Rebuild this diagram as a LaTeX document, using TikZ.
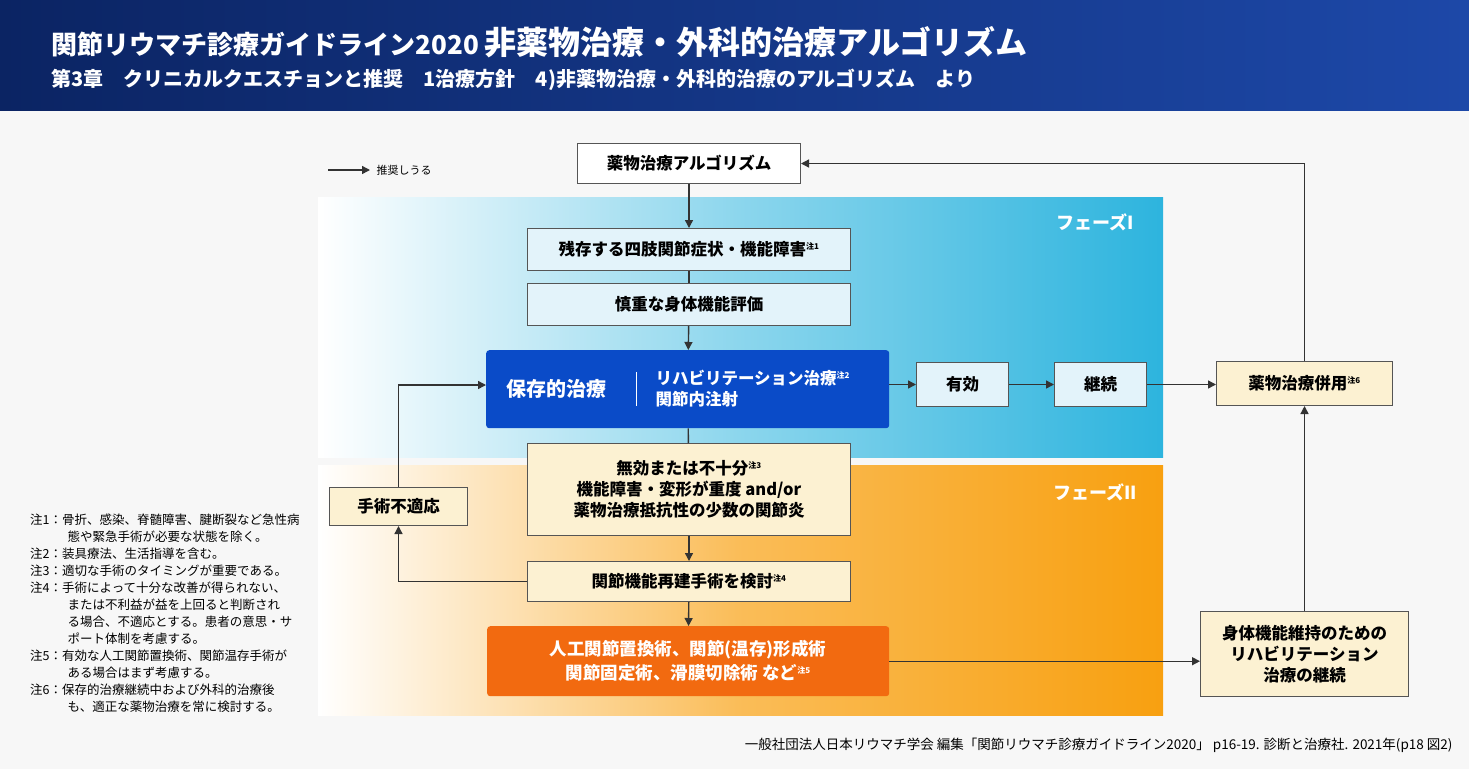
\documentclass[tikz,border=0pt]{standalone}
\usepackage{fontspec}
\setmainfont{Noto Sans CJK JP}
\usetikzlibrary{arrows.meta}
\definecolor{navyA}{HTML}{0B2463}
\definecolor{navyB}{HTML}{1D48A8}
\definecolor{cyanP}{HTML}{2DB4DE}
\definecolor{orgP}{HTML}{F8A010}
\definecolor{lblue}{HTML}{E3F3FA}
\definecolor{cream}{HTML}{FCF1D2}
\definecolor{bblue}{HTML}{0A4BC8}
\definecolor{oorange}{HTML}{F26A10}
\definecolor{bord}{HTML}{555555}
\newcommand{\nt}[1]{\textsuperscript{\fontsize{8}{8}\selectfont 注#1}}
\begin{document}
\begin{tikzpicture}[x=1pt,y=-1pt,
  bx/.style={draw=bord,line width=1pt,font=\fontsize{16.5}{21}\selectfont\bfseries,align=center,inner sep=0pt,anchor=north west},
  ln/.style={line width=1.4pt,draw=black!80},
  ar/.style={ln,-{Triangle[length=8pt,width=8pt]}},
  note/.style={font=\fontsize{12.5}{17}\selectfont,anchor=north west,align=left,inner sep=0pt}]
\useasboundingbox (0,0) rectangle (1469,769);
\fill[gray!6] (0,0) rectangle (1469,769);
\shade[left color=navyA,right color=navyB] (0,0) rectangle (1469,110);
\node[anchor=west,text=white,font=\fontsize{26}{30}\selectfont\bfseries] (title) at (48,42) {関節リウマチ診療ガイドライン2020 \fontsize{32}{34}\selectfont 非薬物治療・外科的治療アルゴリズム};
\node[anchor=west,text=white,font=\fontsize{20}{24}\selectfont\bfseries] (sub) at (48,80) {第3章\quad クリニカルクエスチョンと推奨\quad 1治療方針\quad 4)非薬物治療・外科的治療のアルゴリズム\quad より};
\shade[left color=white,right color=cyanP,middle color=cyanP!55] (318,197) rectangle (1163,457);
\shade[left color=white,right color=orgP,middle color=orgP!70] (318,465) rectangle (1163,715);
\node[text=white,font=\fontsize{18}{20}\selectfont\bfseries] (ph1) at (1095,222) {フェーズI};
\node[text=white,font=\fontsize{18}{20}\selectfont\bfseries] (ph2) at (1095,492) {フェーズII};
% legend
\coordinate (la) at (328,170); \coordinate (lb) at (370,170);
\draw[ar] (la) -- (lb);
\node[anchor=west,font=\fontsize{11}{12}\selectfont] (lt) at (373,170) {推奨しうる};
% boxes
\node[bx,fill=white,minimum width=223pt,minimum height=40pt] (drug) at (577,143) {薬物治療アルゴリズム};
\node[bx,fill=lblue,minimum width=323pt,minimum height=42pt] (zan) at (527,228) {残存する四肢関節症状・機能障害\nt{1}};
\node[bx,fill=lblue,minimum width=323pt,minimum height=42pt] (shin) at (527,283) {慎重な身体機能評価};
\node[anchor=north west,fill=bblue,rounded corners=3pt,minimum width=403pt,minimum height=78pt,inner sep=0pt] (hozon) at (486,350) {};
\node[text=white,font=\fontsize{20}{24}\selectfont\bfseries] (hz1) at (556,389) {保存的治療};
\draw[white,line width=1pt] (636,372) -- (636,406);
\node[text=white,anchor=west,align=left,font=\fontsize{16.5}{21}\selectfont\bfseries] (hz2) at (652,389) {リハビリテーション治療\nt{2}\\関節内注射};
\node[bx,fill=lblue,minimum width=92pt,minimum height=44pt] (yuko) at (916,362) {有効};
\node[bx,fill=lblue,minimum width=92pt,minimum height=44pt] (keizoku) at (1054,362) {継続};
\node[bx,fill=cream,minimum width=176pt,minimum height=44pt] (heiyo) at (1216,361) {薬物治療併用\nt{6}};
\node[bx,fill=cream,minimum width=323pt,minimum height=92pt] (muko) at (527,443) {無効または不十分\nt{3}\\機能障害・変形が重度 and/or\\薬物治療抵抗性の少数の関節炎};
\node[bx,fill=cream,minimum width=138pt,minimum height=38pt] (futeki) at (329,487) {手術不適応};
\node[bx,fill=cream,minimum width=323pt,minimum height=40pt] (saiken) at (527,561) {関節機能再建手術を検討\nt{4}};
\node[anchor=north west,fill=oorange,rounded corners=3pt,minimum width=402pt,minimum height=70pt,inner sep=0pt,text=white,align=center,font=\fontsize{17.5}{24}\selectfont\bfseries] (jinko) at (487,626) {人工関節置換術、関節(温存)形成術\\関節固定術、滑膜切除術 など\nt{5}};
\node[bx,fill=cream,minimum width=208pt,minimum height=85pt] (shintai) at (1200,611) {身体機能維持のための\\リハビリテーション\\治療の継続};
% connectors
\draw[ar] (drug) -- (zan);
\draw[ln] (zan) -- (shin);
\draw[ar] (shin) -- (hozon);
\draw[ln] (hozon) -- (muko);
\draw[ar] (muko) -- (saiken);
\draw[ar] (saiken) -- (jinko);
\draw[ar] (hozon.east|-yuko.west) -- (yuko.west);
\draw[ar] (yuko) -- (keizoku);
\draw[ar] (keizoku.east) -- (heiyo.west|-keizoku.east);
\draw[ar] (heiyo.north) |- (drug.east);
\draw[ar] (shintai) -- (heiyo);
\draw[ar] (jinko.east) -- (shintai.west|-jinko.east);
\draw[ar] (futeki.north) |- (hozon.west|-0,385);
\draw[ar] (saiken.west) -| (futeki.south);
% notes
\node[note] (notes) at (30,514) {注1：骨折、感染、脊髄障害、腱断裂など急性病\\\hspace*{3em}態や緊急手術が必要な状態を除く。\\注2：装具療法、生活指導を含む。\\注3：適切な手術のタイミングが重要である。\\注4：手術によって十分な改善が得られない、\\\hspace*{3em}または不利益が益を上回ると判断され\\\hspace*{3em}る場合、不適応とする。患者の意思・サ\\\hspace*{3em}ポート体制を考慮する。\\注5：有効な人工関節置換術、関節温存手術が\\\hspace*{3em}ある場合はまず考慮する。\\注6：保存的治療継続中および外科的治療後\\\hspace*{3em}も、適正な薬物治療を常に検討する。};
\node[anchor=east,font=\fontsize{13.5}{15}\selectfont] (src) at (1456,745) {一般社団法人日本リウマチ学会 編集「関節リウマチ診療ガイドライン2020」 p16-19. 診断と治療社. 2021年(p18 図2)};
\end{tikzpicture}
\end{document}
